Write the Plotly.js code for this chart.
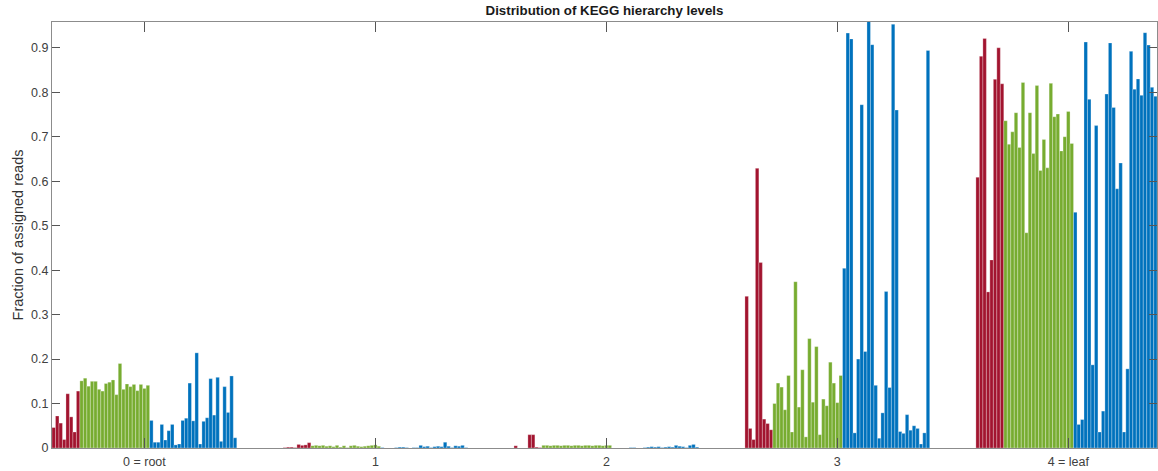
<!DOCTYPE html>
<html>
<head>
<meta charset="utf-8">
<script src="https://cdn.plot.ly/plotly-3.0.1.min.js"></script>
<style>html,body{margin:0;padding:0;background:#fff;}#chart{width:1158px;height:471px;}</style>
</head>
<body>
<div id="chart"></div>
<script>
// Hierarchy levels (x categories)
const levelValues = [0, 1, 2, 3, 4];
const levelLabels = ['0 = root', '1', '2', '3', '4 = leaf'];

// Sample groups (bars per level): red, green, blue
const groupSizes = {red: 8, green: 20, blue: 25};
const groupColors = {red: '#A2142F', green: '#77AC30', blue: '#0072BD'};

// Fraction of assigned reads per sample, one array per hierarchy level
// order: 8 red samples, 20 green samples, 25 blue samples
const level0 = [
  0.046, 0.072, 0.056, 0.019, 0.122, 0.070, 0.036, 0.128,
  0.151, 0.157, 0.139, 0.150, 0.150, 0.132, 0.128, 0.145, 0.148, 0.153,
  0.120, 0.190, 0.132, 0.144, 0.138, 0.143, 0.129, 0.143, 0.134, 0.141,
  0.062, 0.013, 0.013, 0.053, 0.018, 0.039, 0.053, 0.007, 0.009, 0.062,
  0.067, 0.146, 0.061, 0.214, 0.009, 0.060, 0.068, 0.156, 0.074, 0.159,
  0.015, 0.138, 0.080, 0.162, 0.023
];
const level1 = [
  0.001, 0.002, 0.002, 0.001, 0.008, 0.006, 0.007, 0.012,
  0.005, 0.006, 0.005, 0.006, 0.004, 0.005, 0.003, 0.006, 0.002, 0.005,
  0.001, 0.005, 0.006, 0.004, 0.003, 0.004, 0.005, 0.006, 0.007, 0.004,
  0.001, 0.000, 0.000, 0.000, 0.001, 0.002, 0.002, 0.001, 0.000, 0.001,
  0.001, 0.006, 0.003, 0.004, 0.001, 0.003, 0.004, 0.003, 0.013, 0.004,
  0.001, 0.005, 0.004, 0.006, 0.001
];
const level2 = [
  0.005, 0.000, 0.000, 0.000, 0.030, 0.030, 0.002, 0.001,
  0.006, 0.006, 0.005, 0.006, 0.006, 0.005, 0.006, 0.006, 0.005, 0.006,
  0.006, 0.005, 0.006, 0.006, 0.005, 0.006, 0.006, 0.005, 0.006, 0.006,
  0.000, 0.000, 0.000, 0.000, 0.000, 0.001, 0.001, 0.000, 0.000, 0.001,
  0.002, 0.003, 0.002, 0.003, 0.001, 0.002, 0.003, 0.002, 0.006, 0.004,
  0.003, 0.001, 0.006, 0.008, 0.002
];
const level3 = [
  0.341, 0.044, 0.019, 0.629, 0.417, 0.065, 0.055, 0.041,
  0.100, 0.146, 0.137, 0.086, 0.163, 0.036, 0.374, 0.092, 0.176, 0.025,
  0.246, 0.103, 0.228, 0.030, 0.110, 0.095, 0.193, 0.146, 0.102, 0.163,
  0.404, 0.933, 0.920, 0.034, 0.200, 0.772, 0.217, 0.960, 0.907, 0.141,
  0.022, 0.079, 0.352, 0.136, 0.953, 0.760, 0.037, 0.033, 0.075, 0.040,
  0.050, 0.044, 0.009, 0.034, 0.894
];
const level4 = [
  0.609, 0.881, 0.921, 0.351, 0.423, 0.829, 0.900, 0.819,
  0.736, 0.683, 0.711, 0.754, 0.676, 0.822, 0.484, 0.754, 0.662, 0.815,
  0.624, 0.694, 0.630, 0.820, 0.745, 0.751, 0.668, 0.700, 0.757, 0.685,
  0.530, 0.053, 0.064, 0.913, 0.784, 0.187, 0.725, 0.036, 0.083, 0.796,
  0.911, 0.766, 0.583, 0.641, 0.036, 0.178, 0.892, 0.807, 0.830, 0.793,
  0.934, 0.906, 0.811, 0.791, 0.800
];

const levels = [level0, level1, level2, level3, level4];
const colorOrder = [];
Object.keys(groupSizes).forEach(k => { for (let i = 0; i < groupSizes[k]; i++) colorOrder.push(groupColors[k]); });

const traces = colorOrder.map((c, i) => ({
  type: 'bar',
  x: levelValues,
  y: levels.map(l => l[i]),
  marker: {color: c, line: {color: 'rgba(255,255,255,0.55)', width: 0.5}},
  showlegend: false,
  hoverinfo: 'y'
}));

const fam = 'Liberation Sans, Arial, Helvetica, sans-serif';
const axisColor = '#8c8c8c';
const layout = {
  width: 1158, height: 471,
  margin: {l: 52, r: 1, t: 22, b: 23, pad: 0},
  paper_bgcolor: '#ffffff', plot_bgcolor: '#ffffff',
  barmode: 'group', bargap: 0.2, bargroupgap: 0,
  font: {family: fam, size: 12, color: '#404040'},
  title: {text: '<b>Distribution of KEGG hierarchy levels</b>', x: 0.5, xref: 'paper', y: 0.978, yref: 'container', yanchor: 'middle',
          font: {size: 13.3, color: '#1a1a1a', family: fam}},
  xaxis: {
    range: [-0.4, 4.384], tickvals: levelValues, ticktext: levelLabels,
    ticks: 'inside', ticklen: 10, tickwidth: 1, tickcolor: '#555',
    showline: true, linecolor: axisColor, linewidth: 1, mirror: 'ticks',
    showgrid: false, zeroline: false, tickfont: {size: 12.5, color: '#404040'},
    ticklabelstandoff: 2
  },
  yaxis: {
    range: [0, 0.958], dtick: 0.1, tick0: 0,
    ticks: 'inside', ticklen: 8, tickwidth: 1, tickcolor: '#555',
    showline: true, linecolor: axisColor, linewidth: 1, mirror: 'ticks',
    showgrid: false, zeroline: false, tickfont: {size: 12.5, color: '#404040'},
    title: {text: 'Fraction of assigned reads', font: {size: 14.5, color: '#333'}, standoff: 4}
  }
};

Plotly.newPlot('chart', traces, layout, {displayModeBar: false, staticPlot: true});
</script>
</body>
</html>
